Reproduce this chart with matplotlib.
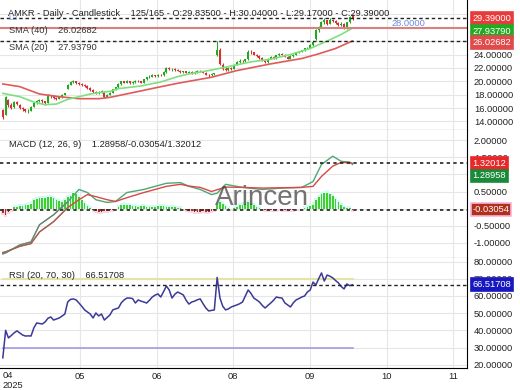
import numpy as np
import matplotlib.pyplot as plt
from matplotlib.ticker import FuncFormatter

plt.rcParams['font.family'] = ['Liberation Sans', 'DejaVu Sans']

# ---- данные ----
opens = [
    15.7, 15.0, 17.2, 16.5, 16.1, 16.9, 16.5, 16.0, 15.8, 15.5,
    15.6, 16.2, 16.8, 17.0, 17.2, 17.0, 16.8, 17.9, 17.8, 17.5,
    17.4, 17.6, 18.0, 18.9, 19.5, 19.9, 20.0, 19.8, 19.6, 19.5,
    19.3, 19.0, 18.7, 18.4, 18.2, 18.4, 18.4, 17.7, 18.0, 18.3,
    18.8, 19.1, 19.6, 20.0, 19.8, 20.0, 19.7, 19.9, 20.1, 20.0,
    19.8, 20.3, 20.6, 20.7, 20.9, 20.8, 21.0, 20.9, 21.4, 22.0,
    21.8, 21.9, 21.7, 21.6, 21.4, 21.5, 21.3, 21.4, 21.2, 21.4,
    21.6, 21.5, 21.3, 21.0, 20.9, 21.1, 24.0, 24.6, 22.5, 21.9,
    21.7, 22.0, 21.9, 22.5, 22.9, 23.1, 23.0, 23.3, 24.4, 24.3,
    24.0, 23.8, 23.5, 23.1, 22.9, 23.4, 23.7, 23.5, 23.9, 24.1,
    24.0, 23.7, 23.4, 23.8, 24.0, 24.3, 24.4, 24.6, 24.9, 25.0,
    25.4, 26.3, 27.6, 28.0, 28.8, 29.1, 28.6, 29.2, 29.0, 28.7,
    28.4, 28.6, 27.9, 28.8, 29.835]
highs = [
    15.9, 17.8, 17.3, 16.7, 17.1, 17.0, 16.6, 16.2, 15.9, 15.8,
    16.3, 16.9, 17.2, 17.4, 17.3, 17.1, 18.1, 18.0, 17.9, 17.7,
    17.8, 18.1, 18.3, 19.6, 20.1, 20.2, 20.1, 19.9, 19.7, 19.6,
    19.4, 19.1, 18.8, 18.5, 18.6, 18.7, 18.5, 18.1, 18.4, 18.9,
    19.2, 19.7, 20.1, 20.1, 20.2, 20.1, 20.0, 20.2, 20.2, 20.1,
    20.4, 20.7, 20.9, 21.1, 21.0, 21.1, 21.1, 21.5, 22.2, 22.1,
    22.0, 22.0, 21.8, 21.7, 21.6, 21.6, 21.5, 21.5, 21.5, 21.7,
    21.7, 21.6, 21.4, 21.1, 21.2, 21.3, 26.0, 24.9, 22.7, 22.1,
    22.1, 22.2, 22.6, 23.0, 23.3, 23.2, 23.4, 24.6, 24.6, 24.4,
    24.1, 23.9, 23.6, 23.2, 23.5, 23.8, 23.8, 24.0, 24.2, 24.2,
    24.1, 23.8, 23.9, 24.1, 24.4, 24.5, 24.7, 25.0, 25.1, 25.5,
    25.9, 27.8, 28.2, 29.0, 29.4, 29.2, 29.4, 29.3, 29.1, 28.8,
    28.8, 28.7, 28.9, 29.8, 30.04]
lows = [
    14.4, 14.9, 16.2, 15.8, 16.0, 16.4, 15.9, 15.6, 15.4, 15.3,
    15.5, 16.1, 16.6, 16.9, 16.8, 16.5, 16.7, 17.5, 17.3, 17.2,
    17.3, 17.5, 17.9, 18.8, 19.4, 19.7, 19.6, 19.5, 19.3, 19.1,
    18.9, 18.6, 18.3, 18.1, 18.1, 18.3, 17.5, 17.6, 17.9, 18.2,
    18.7, 19.0, 19.5, 19.7, 19.7, 19.6, 19.6, 19.8, 19.9, 19.7,
    19.7, 20.2, 20.5, 20.6, 20.7, 20.7, 20.8, 20.8, 21.3, 21.7,
    21.5, 21.6, 21.5, 21.3, 21.3, 21.2, 21.2, 21.1, 21.1, 21.3,
    21.4, 21.2, 20.9, 20.7, 20.8, 21.0, 23.8, 22.4, 21.7, 21.5,
    21.6, 21.7, 21.8, 22.4, 22.8, 22.8, 22.9, 23.2, 24.1, 23.9,
    23.7, 23.4, 23.0, 22.8, 22.8, 23.3, 23.4, 23.4, 23.8, 23.9,
    23.6, 23.3, 23.3, 23.7, 23.9, 24.2, 24.3, 24.5, 24.8, 24.9,
    25.3, 26.2, 27.4, 27.9, 28.6, 28.4, 28.5, 28.8, 28.5, 28.2,
    28.3, 27.8, 27.8, 28.7, 29.17]
closes = [
    14.6, 17.6, 16.4, 16.0, 16.9, 16.6, 16.0, 15.8, 15.5, 15.5,
    16.2, 16.8, 17.0, 17.2, 17.0, 16.7, 17.9, 17.8, 17.5, 17.4,
    17.6, 18.0, 18.2, 19.5, 19.9, 20.0, 19.8, 19.6, 19.5, 19.3,
    19.0, 18.7, 18.4, 18.2, 18.4, 18.5, 17.6, 18.0, 18.3, 18.8,
    19.1, 19.6, 20.0, 19.8, 20.0, 19.7, 19.9, 20.1, 20.0, 19.8,
    20.3, 20.6, 20.7, 20.9, 20.8, 21.0, 20.9, 21.4, 22.0, 21.8,
    21.9, 21.7, 21.6, 21.4, 21.5, 21.3, 21.4, 21.2, 21.4, 21.6,
    21.5, 21.3, 21.0, 20.9, 21.1, 21.2, 24.6, 22.6, 21.9, 21.7,
    22.0, 21.9, 22.5, 22.9, 23.1, 23.0, 23.3, 24.4, 24.3, 24.0,
    23.8, 23.5, 23.1, 22.9, 23.4, 23.7, 23.5, 23.9, 24.1, 24.0,
    23.7, 23.4, 23.8, 24.0, 24.3, 24.4, 24.6, 24.9, 25.0, 25.4,
    25.8, 27.6, 28.0, 28.8, 29.1, 28.6, 29.2, 29.0, 28.7, 28.4,
    28.6, 27.9, 28.8, 29.6, 29.39]

sma20_idx = [0, 6, 11, 15, 19, 23, 26, 31, 34, 38, 41, 49, 56, 62, 66, 73, 80, 88, 95, 102, 109, 116, 120, 124]
sma20_val = [18.2, 17.7, 16.9, 16.5, 16.6, 17.3, 17.6, 18.1, 18.3, 18.5, 18.9, 19.3, 19.9, 20.7, 21.1, 21.6,
             22.2, 22.9, 23.3, 24.0, 24.9, 26.2, 27.0, 27.9379]
sma40_idx = [0, 6, 13, 20, 27, 34, 38, 46, 55, 62, 74, 83, 95, 106, 112, 118, 124]
sma40_val = [19.6, 19.2, 18.1, 17.7, 17.4, 17.4, 17.6, 18.3, 19.1, 19.7, 20.6, 21.6, 22.6, 23.4, 24.1, 24.9, 26.02682]

macd_idx = [0, 1, 6, 10, 13, 18, 23, 27, 30, 33, 37, 40, 44, 50, 58, 63, 66, 70, 74, 76, 79, 85, 92, 99,
            106, 110, 113, 117, 120, 123, 124]
macd_val = [-1.32, -1.29, -1.06, -0.97, -0.47, -0.18, 0.20, 0.56, 0.47, 0.26, 0.18, 0.21, 0.47, 0.56, 0.74,
            0.76, 0.65, 0.56, 0.41, 0.45, 0.71, 0.62, 0.56, 0.60, 0.62, 0.79, 1.29, 1.53, 1.38, 1.36, 1.28958]
signal_idx = [0, 1, 6, 10, 13, 18, 23, 27, 30, 33, 37, 40, 44, 50, 58, 63, 66, 70, 74, 79, 85, 92, 99,
              106, 110, 113, 117, 120, 123, 124]
signal_val = [-1.28, -1.26, -1.10, -1.02, -0.68, -0.38, 0.03, 0.26, 0.41, 0.35, 0.26, 0.21, 0.32, 0.47, 0.65,
              0.71, 0.66, 0.62, 0.50, 0.63, 0.62, 0.60, 0.61, 0.62, 0.65, 0.94, 1.24, 1.35, 1.34, 1.32012]
hist = [
    -0.12, -0.18, -0.10, -0.05, 0.05, 0.06, 0.08, 0.07, 0.10, 0.12,
    0.15, 0.25, 0.28, 0.30, 0.32, 0.30, 0.33, 0.35, 0.30, 0.26,
    0.22, 0.20, 0.24, 0.33, 0.38, 0.45, 0.42, 0.35, 0.25, 0.16,
    0.08, 0.03, -0.04, -0.08, -0.10, -0.09, -0.07, -0.08, -0.05, -0.03,
    0.00, 0.06, 0.10, 0.12, 0.10, 0.11, 0.09, 0.08, 0.06, 0.07,
    0.08, 0.06, 0.05, 0.06, 0.05, 0.07, 0.08, 0.07, 0.06, 0.05,
    0.06, 0.04, 0.03, 0.02, -0.02, -0.04, -0.06, -0.08, -0.09, -0.10,
    -0.09, -0.08, -0.10, -0.09, -0.06, -0.03, 0.10, 0.18, 0.15, 0.08,
    0.03, -0.02, 0.02, 0.05, 0.10, 0.12, 0.15, 0.18, 0.14, 0.10,
    0.06, 0.02, -0.02, -0.04, -0.05, -0.04, -0.03, -0.03, -0.02, -0.03,
    -0.04, -0.05, -0.04, -0.03, -0.02, -0.02, 0.00, 0.03, 0.05, 0.08,
    0.12, 0.25, 0.35, 0.42, 0.46, 0.47, 0.42, 0.36, 0.28, 0.18,
    0.10, 0.06, 0.03, 0.01, -0.03054]

rsi = [
    24.0, 40.0, 35.6, 37.0, 38.5, 39.7, 38.5, 37.3, 36.7, 36.8,
    36.7, 41.4, 44.3, 44.0, 43.7, 44.9, 47.0, 47.8, 46.0, 46.6,
    47.2, 48.3, 49.5, 56.5, 58.0, 58.3, 57.7, 55.9, 54.0, 51.9,
    50.7, 49.5, 47.2, 50.1, 48.4, 49.5, 46.0, 47.5, 49.0, 51.9,
    52.5, 53.0, 56.0, 57.7, 58.8, 58.8, 58.5, 55.9, 57.7, 57.0,
    56.5, 55.9, 57.5, 59.4, 60.5, 61.2, 59.4, 62.5, 65.8, 63.5,
    58.8, 61.0, 62.3, 61.5, 60.6, 57.5, 55.3, 56.5, 57.0, 57.8,
    58.3, 55.5, 53.0, 51.3, 51.6, 51.9, 70.8, 58.8, 54.0, 51.9,
    52.5, 53.6, 54.2, 54.8, 55.5, 56.5, 60.0, 63.5, 61.5, 58.8,
    57.7, 56.5, 54.5, 53.0, 54.5, 55.9, 57.5, 59.4, 59.0, 58.8,
    56.0, 54.8, 53.6, 56.0, 57.7, 58.5, 59.4, 60.0, 62.3, 63.5,
    68.1, 66.4, 70.0, 73.4, 68.7, 72.2, 71.5, 70.5, 69.0, 67.6,
    65.5, 64.1, 67.0, 66.0, 66.51708]

hline_level = 28.0
month_pos = [27.3, 54.6, 81.6, 108.9, 136.2, 159.6]
month_labels = ['05', '06', '08', '09', '10', '11']

W, H = 520, 390
fig = plt.figure(figsize=(5.2, 3.9), dpi=100)


def px_axes(top, bottom, **kw):
    return fig.add_axes([0, 1 - bottom / H, 467 / W, (bottom - top) / H], **kw)


def fmt_hiding(hidden):
    # метки под цветными плашками не видны
    def f(v, pos):
        if any(abs(v - hv) < 1e-6 for hv in hidden):
            return ''
        return '%.5f' % v
    return FuncFormatter(f)


ax1 = px_axes(0, 130.5)
ax2 = px_axes(130.5, 258, sharex=ax1)
ax3 = px_axes(258, 368, sharex=ax1)

x = np.arange(len(closes))
o, hi, lo, c = map(np.array, (opens, highs, lows, closes))

for ax in (ax1, ax2, ax3):
    ax.set_facecolor('white')
    ax.spines['top'].set_visible(False)
    ax.spines['left'].set_visible(False)
    ax.spines['right'].set_color('black')
    ax.spines['bottom'].set_color('#444444')
    ax.yaxis.tick_right()
    ax.tick_params(axis='y', length=0, pad=5, labelsize=6.7, labelcolor='#222222')
    ax.tick_params(axis='x', length=0, labelsize=6.7, labelcolor='#222222', pad=3)
    ax.grid(True, color='#e6e6e6', lw=0.8)
    ax.set_axisbelow(True)
ax3.spines['bottom'].set_color('black')
ax1.tick_params(labelbottom=False)
ax2.tick_params(labelbottom=False)

# ---- свечи ----
up = c >= o
cols = np.where(up, '#22a822', '#d63030')
ax1.vlines(x, lo, hi, colors=cols, lw=0.8)
ax1.bar(x, np.maximum(np.abs(c - o), 0.06), bottom=np.minimum(o, c), width=0.7, color=cols, lw=0)
ax1.plot(sma40_idx, sma40_val, color='#e05a5a', lw=1.2)
ax1.plot(sma20_idx, sma20_val, color='#7ee07e', lw=1.2)
ax1.axhline(hline_level, color='#d98080', lw=1.5)
ax1.axhline(closes[-1], color='#222222', lw=1, ls=(0, (2.5, 2)))
ax1.axhline(sma40_val[-1], color='#222222', lw=1, ls=(0, (2.5, 2)))
ax1.set_ylim(12.65, 32.14)
ax1.set_yticks(np.arange(14, 31, 2))
ax1.yaxis.set_major_formatter(fmt_hiding([26, 28]))
ax1.set_xlim(-1, 164.6)

# ---- MACD ----
h = np.array(hist)
hcol = np.where(h >= 0, '#3fd12a', '#a8321c')
bg = np.where(h >= 0, '#d6f8f6', '#fbd6e6')
ax2.bar(x, h + np.sign(h) * 0.06, width=1.0, color=bg, lw=0, zorder=1)
ax2.bar(x, h, width=0.6, color=hcol, lw=0, zorder=2)
ax2.plot(macd_idx, macd_val, color='#4ca877', lw=1.0, zorder=3)
ax2.plot(signal_idx, signal_val, color='#d84848', lw=1.0, zorder=3)
ax2.plot(macd_idx[:7], macd_val[:7], color='#7a7a7a', lw=0.8, zorder=4)
ax2.plot(signal_idx[:7], signal_val[:7], color='#8c6e55', lw=0.8, zorder=4)
ax2.axhline(signal_val[-1], color='#222222', lw=1.2, ls=(0, (2, 2)), zorder=5)
ax2.axhline(hist[-1], color='#222222', lw=1.2, ls=(0, (2, 2)), zorder=5)
ax2.set_ylim(-1.44, 2.28)
ax2.set_yticks(np.arange(-1.0, 2.01, 0.5))
ax2.yaxis.set_major_formatter(fmt_hiding([0.0, 1.0]))

# ---- RSI ----
ax3.plot([0, len(rsi) - 1], [70, 70], color='#e4e4a6', lw=1.5)
ax3.plot([0, len(rsi) - 1], [30, 30], color='#a898e8', lw=1.2)
ax3.plot(x, rsi, color='#3a3a98', lw=1.1)
ax3.axhline(rsi[-1], color='#222222', lw=1.0, ls=(0, (2.5, 2)))
ax3.set_ylim(18.1, 82.1)
ax3.set_yticks(np.arange(20, 81, 10))
ax3.yaxis.set_major_formatter(fmt_hiding([]))
ax3.set_xticks(month_pos)
ax3.set_xticklabels(month_labels)


def tag(ax, val, text, fc, dy=0, ec=None):
    ax.annotate(text, xy=(1, val), xycoords=ax.get_yaxis_transform(), xytext=(4, dy),
                textcoords='offset points', ha='left', va='center', fontsize=6.7, color='white',
                bbox=dict(boxstyle='square,pad=0.2', fc=fc, ec=ec or fc, lw=1.2),
                annotation_clip=False, zorder=10)


tag(ax1, closes[-1], '29.39000', '#e83c3c')
tag(ax1, sma20_val[-1], '27.93790', '#22aa22', dy=-2.5)
tag(ax1, sma40_val[-1], '26.02682', '#e04a4a', dy=-1.2)
tag(ax2, signal_val[-1], '1.32012', '#e82828')
tag(ax2, macd_val[-1], '1.28958', '#1a8a3a', dy=-8.3)
tag(ax2, hist[-1], '-0.03054', '#b0301c', ec='#f6b4d8')
tag(ax3, rsi[-1], '66.51708', '#1818c0')


def ftext(px, py, s, **kw):
    fig.text(px / W, 1 - py / H, s, va='baseline', **kw)


ftext(8, 16.5, 'AMKR - Daily - Candlestick    125/165 - O:29.83500 - H:30.04000 - L:29.17000 - C:29.39000',
      fontsize=6.7, color='#222222')
ftext(8, 20.5, 'L3', fontsize=6, color='#7a9ad8')
ftext(9, 33.3, 'SMA (40)    26.02682', fontsize=6.7, color='#333333')
ftext(9, 50, 'SMA (20)    27.93790', fontsize=6.7, color='#333333')
ftext(392, 26, '28.0000', fontsize=6.7, color='#6a8ad8')
ftext(9, 147, 'MACD (12, 26, 9)    1.28958/-0.03054/1.32012', fontsize=6.7, color='#222222')
ftext(9, 277.5, 'RSI (20, 70, 30)    66.51708', fontsize=6.7, color='#222222')
ftext(3, 378.5, '04', fontsize=6.7, color='#222222')
ftext(3, 387.5, '2025', fontsize=6.7, color='#222222')
ftext(262, 205, 'Arincen', fontsize=20, color='#444444', alpha=0.75, ha='center')

fig.savefig('out.png', dpi=100)
